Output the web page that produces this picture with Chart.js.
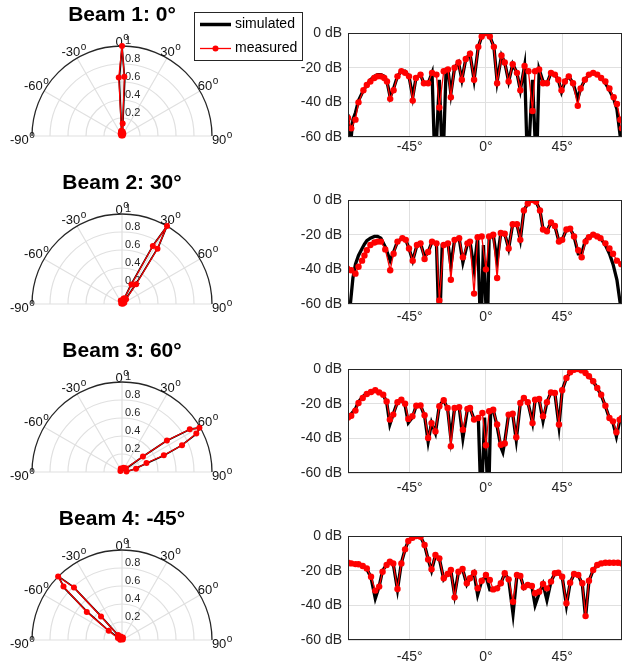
<!DOCTYPE html>
<html>
<head>
<meta charset="utf-8">
<script src="https://cdn.jsdelivr.net/npm/chart.js@4.4.0/dist/chart.umd.min.js"></script>
<style>
  html, body { margin: 0; padding: 0; background: #fff; }
  #fig { position: relative; width: 626px; height: 663px; overflow: hidden; background: #fff; }
  canvas { position: absolute; }
</style>
</head>
<body>
<div id="fig"></div>
<script>
// ---- data ----
const titles = ['Beam 1: 0°', 'Beam 2: 30°', 'Beam 3: 60°', 'Beam 4: -45°'];
const seriesLabels = ['simulated', 'measured'];
const xTicks = [-45, 0, 45];
const spokeAngles = [-90, -60, -30, 0, 30, 60, 90];
const ringValues = [0.2, 0.4, 0.6, 0.8, 1];
const ringLabels = ['0.2', '0.4', '0.6', '0.8', '1'];

// beam 1, dB vs angle
const measDeg1 = [-81.4,-79.5,-77,-75.2,-72.3,-70.3,-68.2,-65.9,-64,-62,-60,-58.4,-56.5,-54.5,-52.2,-49.9,-47.7,-45.4,-43.2,-41.3,-38.6,-36.6,-34.1,-31.8,-29.2,-27.5,-24.9,-22.4,-20.7,-18.5,-16.2,-14.2,-11.9,-9.4,-7,-4.5,-2.5,0,2.3,4.7,6.6,9.2,11.1,13.4,15.8,18.3,20.3,22.8,25.1,27.5,29,31.4,33.7,36,38.4,40.7,42.7,44.6,46.6,48.9,51.4,54.2,55.9,58.4,60.8,63.3,65.7,68,70.5,72.9,75.4,77.3,79.3,80.3];
const measDb1 = [-49,-55,-50,-40,-33,-30,-28,-26,-25,-25,-26,-28,-38,-33,-25,-22,-23,-25,-39,-26,-24,-29,-29,-23,-24,-43,-22,-21,-37,-20,-17,-27,-15,-12,-27,-8,-2,0,-2,-8,-29,-13,-17,-28,-18,-23,-33,-19,-22,-45,-22,-21,-29,-29,-23,-24,-27,-33,-28,-25,-29,-42,-32,-27,-24,-23,-24,-26,-28,-32,-37,-41,-50,-55];
const simDeg1 = [-81.4,-80,-78.5,-77,-75.2,-72.3,-70.3,-68.2,-65.9,-64,-62,-60,-58.4,-56.5,-54.5,-52.2,-49.9,-47.7,-45.4,-43.2,-41.3,-38.6,-36.6,-34.1,-31.8,-30,-27.5,-25.5,-23.5,-22.4,-20.7,-18.5,-16.2,-14.2,-11.9,-9.4,-7,-4.5,-2.5,0,2.3,4.7,6.6,9.2,11.1,13.4,15.8,18.3,20.3,22.8,24.6,27.5,29.8,31.4,33.7,36,38.4,40.7,42.7,44.6,46.6,48.9,51.4,54.2,55.9,58.4,60.8,63.3,65.7,68,70.5,72.9,75.4,77.3,79.3,80.3];
const simDb1 = [-47,-65,-50,-46,-39,-33,-30,-27,-25,-24,-24,-25,-28,-37,-32,-25,-22,-22,-25,-37,-26,-24,-29,-29,-23,-80,-27,-80,-21,-21,-35,-20,-17,-27,-15,-12,-27,-8,-2,0,-2,-8,-28,-13,-17,-28,-18,-23,-33,-19,-80,-27,-80,-21,-28,-29,-23,-24,-27,-34,-28,-25,-29,-38,-32,-27,-24,-23,-24,-26,-29,-33,-38,-44,-60,-70];

// beam 2
const measDeg2 = [-81.8,-79.5,-77,-75.2,-73.1,-71.7,-70.3,-68.2,-65.8,-63.9,-62,-59.4,-56.5,-54.5,-52.2,-49.3,-47.3,-45.4,-43.2,-40.7,-38.6,-36.2,-34.1,-31.8,-29.2,-27.5,-24.9,-22.4,-20.7,-18.5,-15.8,-13.6,-10.9,-9.4,-7,-4.9,-2.5,0,1.9,4.3,6.6,8.8,11.1,13.4,15.8,18.3,20.3,22.4,24.7,27.5,29.6,31.9,33.7,36,38.4,40.7,43.1,45,47.5,49.7,52,54.5,56.5,58.8,60.8,63.3,65.7,67.6,70.5,72.9,75,77.3,79.9];
const measDb2 = [-39.6,-40.5,-42.5,-38.5,-35,-32,-29,-26,-24.5,-24,-24,-28.5,-40.5,-31,-24,-22,-23,-28,-35,-26,-25,-34,-30,-24,-25,-58,-26,-25,-46,-23,-22,-33,-25,-24,-54,-21.5,-21,-40,-21,-20,-45,-19,-19.5,-28,-14,-14,-23,-6,-2,0,-1,-6,-17,-18,-13,-15,-24,-23,-17,-16.5,-21,-29,-33,-24,-21.5,-20,-21,-22,-25,-28,-31,-35,-37];
const simDeg2 = [-81.8,-80,-78.5,-77,-75.2,-73.1,-71.7,-70.3,-68.2,-65.8,-63.9,-62,-59.4,-56.5,-54.5,-52.2,-49.3,-47.3,-45.4,-43.2,-40.7,-38.6,-36.2,-34.1,-31.8,-29.2,-27.5,-25.8,-22.4,-20.7,-18.5,-15.8,-13.6,-10.9,-9.4,-7,-4.9,-3,-1.5,0.8,1.9,4.3,6.6,8.8,11.1,13.4,15.8,18.3,20.3,22.4,24.7,27.5,29.6,31.9,33.7,36,38.4,40.7,43.1,45,47.5,49.7,52,54.5,56.5,58.8,60.8,63.3,65.7,67.6,70.5,72.9,75,77.3,79.3,80.5];
const simDb2 = [-75,-60,-45,-37,-32,-28,-25.5,-23.5,-22,-21,-21,-22,-27,-35,-30,-24,-22,-23,-28,-35,-26,-25,-33,-30,-24,-25,-80,-26,-25,-38,-23,-22,-36,-25,-24,-40,-21.5,-80,-26,-80,-21,-20,-35,-19,-19.5,-28,-14,-14,-23,-6,-2,0,-1,-6,-17,-18,-13,-15,-24,-23,-17,-16.5,-21,-31,-31,-23,-21,-20,-20.5,-22,-26,-31,-37,-46,-60,-70];

// beam 3
const measDeg3 = [-81.4,-79.5,-77,-75.2,-72.7,-70.3,-67.8,-65.3,-63,-60.6,-58.6,-56.7,-54.7,-52.2,-49.9,-47.7,-45.8,-43.4,-41.1,-38.6,-36.2,-34.1,-32.1,-29.8,-27.5,-24.9,-22.6,-20.7,-18.5,-15.8,-13.6,-10.9,-9.4,-7,-4.5,-2.1,0,1.9,4.3,6.6,8.8,11.1,13.4,15.8,17.9,20.3,22.4,24.7,27.5,29,31.4,33.7,36,38.4,40.7,43.1,45,47.5,49.7,52,54.5,56.5,58.8,60.8,63.3,65.7,68,70.5,72.9,75,77,78.9,80.3];
const measDb3 = [-28,-27,-24,-19.6,-16.7,-14.4,-13.3,-12.3,-13.5,-14.8,-18.7,-29.2,-26.3,-19.2,-17.7,-20,-28.8,-27.3,-21.2,-21,-26.7,-39.8,-31.2,-36,-21.5,-18,-22.5,-44.6,-22.5,-22,-35,-23,-22.5,-29.2,-28.3,-25.4,-44,-24.4,-23.5,-32,-43.7,-43,-26.3,-25.8,-39.4,-19.6,-16.7,-19.2,-31.2,-17.7,-17.3,-27.3,-19.2,-13.5,-13.8,-32,-12.3,-5.2,-1.9,-0.4,0,-0.8,-2.3,-4.2,-7.1,-11,-14.8,-21.2,-28.3,-30.2,-36.5,-29.2,-28.3];
const simDeg3 = [-81.4,-79.5,-77,-75.2,-72.7,-70.3,-67.8,-65.3,-63,-60.6,-58.6,-56.7,-54.7,-52.2,-49.9,-47.7,-45.8,-43.4,-41.1,-38.6,-36.2,-34.1,-32.1,-29.8,-27.5,-24.9,-22.6,-20.7,-18.5,-15.8,-13.6,-10.9,-9.4,-7,-4.5,-2.8,-0.8,1.5,2.8,4.3,6.6,8.8,10,11.1,13.4,15.8,17.9,20.3,22.4,24.7,27.5,29,31.4,33.7,36,38.4,40.7,43.1,45,47.5,49.7,52,54.5,56.5,58.8,60.8,63.3,65.7,68,70.5,72.9,75,77,78.9,80.3];
const simDb3 = [-28,-26,-23,-19,-16,-14,-13,-12.5,-13.5,-15,-19,-32,-26,-19,-18,-21,-31,-28,-21,-21,-27,-42,-31,-37,-21,-18,-23,-40,-22.5,-22,-40,-23,-22.5,-29,-28,-80,-28,-80,-24,-23.5,-33,-45,-48,-42,-26,-26,-41,-19.6,-16.7,-19,-31,-18,-17.5,-30,-19,-13.5,-14,-33,-12.3,-5.2,-1.9,-0.4,0,-0.8,-2.3,-4.2,-7.1,-11,-15,-21.5,-28.5,-31,-39,-30,-28];

// beam 4 (simulated sampled at the same angles)
const measDeg4 = [-81.4,-79.5,-77,-75.2,-72.7,-70.3,-67.8,-65.3,-63,-61,-58.6,-56.7,-54.7,-52.2,-49.9,-47.7,-45.8,-43.4,-41.1,-38.6,-36.2,-34.1,-32.1,-29.8,-27.5,-24.9,-22.6,-20.7,-18.5,-16.2,-13.8,-11.3,-9.4,-7,-4.9,-2.5,0,2.3,4.3,6.6,8.8,11.1,13.4,16,18.3,20.3,22.4,24.7,27.1,29,31.4,33.7,36,38.4,40.7,42.7,45,47.5,49.7,52,54.5,56.9,58.8,60.8,63.3,65.7,68,70.5,72.9,75.4,77.9,80.3];
const measDb4 = [-15.4,-15.8,-16.2,-16.3,-17.3,-18.7,-23.5,-31.5,-29.2,-20.6,-16.7,-14.8,-15.8,-30.6,-15.8,-7.7,-2.9,-1,0,-0.4,-5.2,-13.5,-19.2,-11,-12.9,-24.4,-21.9,-19.6,-35.4,-20.6,-19,-27.3,-24.4,-21.2,-30.2,-25.8,-22.5,-25.4,-30.8,-30.2,-27.3,-21.5,-25,-37.9,-22.5,-23.1,-29.6,-28.3,-28.8,-33,-32.1,-27.7,-30.2,-26.3,-21.5,-21.2,-23.5,-38.8,-26.9,-21.9,-22.5,-27.3,-46.2,-25.8,-19.6,-16.7,-15.8,-15.4,-15.4,-15.4,-15.4,-15.8];
const simDb4 = [-15.4,-15.8,-16.2,-16.5,-17.5,-19,-24,-36,-29,-20,-16.5,-15,-16,-31,-15.5,-7.7,-2.9,-1,0,-0.4,-5.2,-13.5,-20,-11,-13,-25,-22,-20,-34,-20.6,-19,-28,-24.4,-21.2,-34,-26,-23,-31,-31,-30,-27.3,-21.5,-25,-45,-22.5,-23,-30,-28,-29,-40,-33,-27.7,-37,-26.3,-21.5,-21,-23.5,-40,-27,-22,-22.5,-28,-47,-26,-19.6,-16.7,-15.8,-15.4,-15.4,-15.4,-15.4,-15.8];

// polar plots: linear magnitude vs angle
const polMeasDeg1 = [-60,-30,-12,-6,-3.2,0,2.3,3,6,12,30,60];
const polMeasMag1 = [0.01,0.03,0.05,0.06,0.65,1,0.66,0.14,0.05,0.04,0.03,0.01];
const polSimDeg1 = [-60,-8,-5,-2.8,0,2.8,5,8,60];
const polSimMag1 = [0.01,0.03,0.08,0.62,1,0.62,0.08,0.03,0.01];

const polMeasDeg2 = [-60,-20,0,15,22,25.8,28,30,32.7,35.6,40,60,80];
const polMeasMag2 = [0.01,0.04,0.03,0.06,0.07,0.24,0.73,1,0.73,0.27,0.07,0.03,0.01];
const polSimDeg2 = [-60,20,25,28,30,32.5,35,40,60];
const polSimMag2 = [0.01,0.04,0.24,0.75,1,0.75,0.27,0.04,0.01];

const polMeasDeg3 = [-60,-20,20,45,53.3,54.9,57.8,60.3,62.6,66,68.2,69.7,77,85];
const polMeasMag3 = [0.02,0.04,0.05,0.06,0.29,0.61,0.89,0.99,0.93,0.73,0.5,0.29,0.16,0.05];
const polSimDeg3 = [-60,40,50,53.5,55,58,60.5,63,66,68.5,71,78,88];
const polSimMag3 = [0.01,0.03,0.06,0.3,0.6,0.9,1,0.92,0.72,0.5,0.28,0.12,0.03];

const polMeasDeg4 = [-85,-65,-55,-51.5,-47.6,-45.2,-42.5,-41.8,-38,-20,20,60];
const polMeasMag4 = [0.02,0.05,0.18,0.5,0.88,1,0.79,0.35,0.07,0.04,0.03,0.01];
const polSimDeg4 = [-80,-58,-54,-51,-48,-45,-42.5,-41.5,-38,-20,60];
const polSimMag4 = [0.01,0.05,0.22,0.5,0.86,1,0.8,0.38,0.06,0.03,0.01];

const beams = [
  { mD: measDeg1, mV: measDb1, sD: simDeg1, sV: simDb1, pmD: polMeasDeg1, pmV: polMeasMag1, psD: polSimDeg1, psV: polSimMag1 },
  { mD: measDeg2, mV: measDb2, sD: simDeg2, sV: simDb2, pmD: polMeasDeg2, pmV: polMeasMag2, psD: polSimDeg2, psV: polSimMag2 },
  { mD: measDeg3, mV: measDb3, sD: simDeg3, sV: simDb3, pmD: polMeasDeg3, pmV: polMeasMag3, psD: polSimDeg3, psV: polSimMag3 },
  { mD: measDeg4, mV: measDb4, sD: measDeg4, sV: simDb4, pmD: polMeasDeg4, pmV: polMeasMag4, psD: polSimDeg4, psV: polSimMag4 }
];

// ---- styling ----
const FONT = "'Liberation Sans', Arial, Helvetica, sans-serif";
const AXIS = '#262626';
const GRID = '#e0e0e0';
const RED = '#ff0000';
Chart.defaults.font.family = FONT;
Chart.defaults.color = AXIS;

const fig = document.getElementById('fig');
function addCanvas(left, top, w, h) {
  const c = document.createElement('canvas');
  c.width = w; c.height = h;
  c.style.left = left + 'px'; c.style.top = top + 'px';
  c.style.width = w + 'px'; c.style.height = h + 'px';
  fig.appendChild(c);
  return c;
}

const pairs = (xs, ys) => xs.map((x, i) => ({ x: x, y: ys[i] }));
// polar (angle from broadside, magnitude) -> cartesian for the scatter scales
const polarXY = (deg, mag) => deg.map((d, i) => ({
  x: mag[i] * Math.sin(d * Math.PI / 180),
  y: mag[i] * Math.cos(d * Math.PI / 180)
}));

// draws "-30" with a raised "o", matlab style
function degLabel(ctx, text, x, y) {
  ctx.font = '13px ' + FONT;
  const w1 = ctx.measureText(text).width;
  ctx.font = '10px ' + FONT;
  const w2 = ctx.measureText('o').width;
  const x0 = x - (w1 + w2) / 2;
  ctx.textAlign = 'left';
  ctx.textBaseline = 'middle';
  ctx.font = '13px ' + FONT;
  ctx.fillText(text, x0, y);
  ctx.font = '10px ' + FONT;
  ctx.fillText('o', x0 + w1 + 0.5, y - 5);
}

const polarGrid = {
  id: 'polarGrid',
  beforeDatasetsDraw(chart, args, opts) {
    const { ctx, scales: { x, y } } = chart;
    const cx = x.getPixelForValue(0), cy = y.getPixelForValue(0);
    const R = x.getPixelForValue(1) - cx;
    ctx.save();
    ctx.strokeStyle = GRID;
    ctx.lineWidth = 1.2;
    ringValues.slice(0, -1).forEach(r => {
      ctx.beginPath();
      ctx.arc(cx, cy, r * R, Math.PI, 2 * Math.PI);
      ctx.stroke();
    });
    spokeAngles.forEach(a => {
      const t = a * Math.PI / 180;
      ctx.beginPath();
      ctx.moveTo(cx, cy);
      ctx.lineTo(cx + R * Math.sin(t), cy - R * Math.cos(t));
      ctx.stroke();
    });
    ctx.strokeStyle = AXIS;
    ctx.lineWidth = 1.3;
    ctx.beginPath();
    ctx.arc(cx, cy, R, Math.PI, 2 * Math.PI);
    ctx.stroke();

    // ring labels
    ctx.fillStyle = AXIS;
    ctx.font = '11px ' + FONT;
    ctx.textAlign = 'left';
    ctx.textBaseline = 'middle';
    ringValues.forEach((r, i) => ctx.fillText(ringLabels[i], cx + 3, cy - r * R - 5));

    // angle labels
    ctx.fillStyle = '#111';
    spokeAngles.forEach(a => {
      const t = a * Math.PI / 180;
      const f = 1.04 + 0.07 * Math.abs(Math.sin(t));
      const lx = cx + f * R * Math.sin(t);
      let ly = cy - f * R * Math.cos(t);
      if (Math.abs(a) === 90) ly = cy + 4;
      degLabel(ctx, String(a), lx, ly);
    });

    // title
    ctx.fillStyle = '#000';
    ctx.font = 'bold 21px ' + FONT;
    ctx.textAlign = 'center';
    ctx.fillText(opts.text, cx, cy - 121);
    ctx.restore();
  }
};

const legendBox = {
  id: 'legendBox',
  afterDraw(chart) {
    const ctx = chart.ctx;
    const widths = [3.5, 1.3];
    ctx.save();
    ctx.fillStyle = '#fff';
    ctx.fillRect(194.5, 12.5, 108, 48);
    ctx.strokeStyle = AXIS;
    ctx.lineWidth = 1;
    ctx.strokeRect(194.5, 12.5, 108, 48);
    chart.data.datasets.forEach((d, i) => {
      const y = 24.5 + i * 24;
      ctx.strokeStyle = d.borderColor;
      ctx.lineWidth = widths[i];
      ctx.beginPath();
      ctx.moveTo(200, y);
      ctx.lineTo(231, y);
      ctx.stroke();
      if (d.pointRadius) {
        ctx.fillStyle = d.borderColor;
        ctx.beginPath();
        ctx.arc(215.5, y, 3, 0, 2 * Math.PI);
        ctx.fill();
      }
      ctx.fillStyle = '#000';
      ctx.font = '14px ' + FONT;
      ctx.textAlign = 'left';
      ctx.textBaseline = 'middle';
      ctx.fillText(d.label, 235, y);
    });
    ctx.restore();
  }
};

const axesBox = {
  id: 'axesBox',
  afterDatasetsDraw(chart) {
    const { ctx, chartArea: a } = chart;
    ctx.save();
    ctx.strokeStyle = AXIS;
    ctx.lineWidth = 1;
    ctx.strokeRect(a.left + 0.5, a.top + 0.5, a.right - a.left - 1, a.bottom - a.top - 1);
    ctx.restore();
  }
};

const polarCenters = [136, 304, 472, 640];
const rectTops = [33, 200, 369, 536];
const xLabelPad = [2, 5, 7, 9];

beams.forEach((b, i) => {
  // polar half plot
  const pc = addCanvas(0, polarCenters[i] - 136, 310, 168);
  new Chart(pc, {
    type: 'scatter',
    data: {
      datasets: [
        { label: seriesLabels[0], data: polarXY(b.psD, b.psV), showLine: true,
          borderColor: '#000', borderWidth: 1.7, pointRadius: 0, order: 1, clip: false },
        { label: seriesLabels[1], data: polarXY(b.pmD, b.pmV), showLine: true,
          borderColor: RED, backgroundColor: RED, borderWidth: 1.2,
          pointRadius: 3, pointBorderWidth: 0, order: 0, clip: false }
      ]
    },
    options: {
      responsive: false,
      animation: false,
      layout: { padding: { left: 32, right: 98, top: 46, bottom: 32 } },
      scales: {
        x: { type: 'linear', min: -1, max: 1, display: false },
        y: { type: 'linear', min: 0, max: 1, display: false }
      },
      plugins: { legend: { display: false }, tooltip: { enabled: false }, polarGrid: { text: titles[i] } }
    },
    plugins: i === 0 ? [polarGrid, legendBox] : [polarGrid]
  });

  // dB pattern
  const rc = addCanvas(290, rectTops[i] - 15, 336, 149);
  new Chart(rc, {
    type: 'scatter',
    data: {
      datasets: [
        { label: seriesLabels[0], data: pairs(b.sD, b.sV), showLine: true,
          borderColor: '#000', borderWidth: 3.3, pointRadius: 0, order: 1 },
        { label: seriesLabels[1], data: pairs(b.mD, b.mV), showLine: true,
          borderColor: RED, backgroundColor: RED, borderWidth: 1.3,
          pointRadius: 3.2, pointBorderWidth: 0, order: 0 }
      ]
    },
    options: {
      responsive: false,
      animation: false,
      layout: { padding: { top: 15, right: 1, left: 0, bottom: 0 } },
      scales: {
        x: {
          type: 'linear', min: -81.4, max: 80.3,
          afterBuildTicks: s => { s.ticks = xTicks.map(v => ({ value: v })); },
          afterFit: s => { s.height = 30; },
          grid: { color: GRID, drawTicks: false },
          border: { display: false },
          ticks: { padding: xLabelPad[i], autoSkip: false, maxRotation: 0,
                   font: { size: 14 }, color: AXIS, callback: v => v + '°' }
        },
        y: {
          type: 'linear', min: -60, max: 0,
          afterFit: s => { s.width = 58; },
          grid: { color: GRID, drawTicks: false },
          border: { display: false },
          ticks: { stepSize: 20, padding: 6, font: { size: 14 }, color: AXIS,
                   callback: v => v + ' dB' }
        }
      },
      plugins: { legend: { display: false }, tooltip: { enabled: false } }
    },
    plugins: [axesBox]
  });
});
</script>
</body>
</html>
